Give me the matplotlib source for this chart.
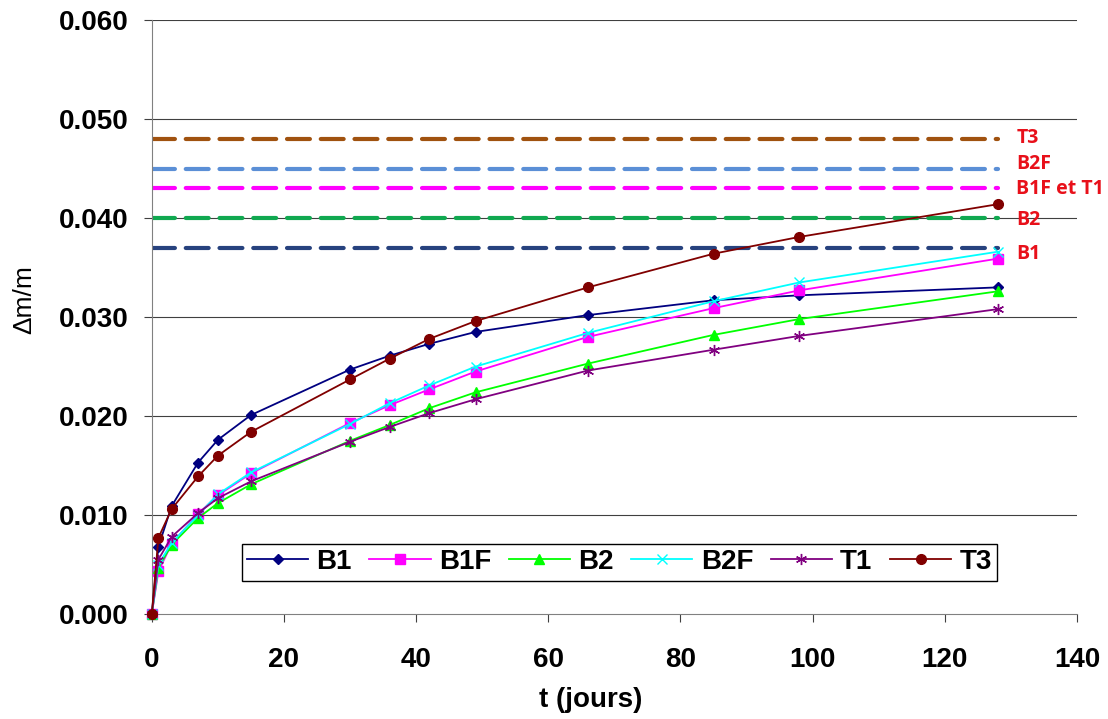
import matplotlib
matplotlib.use("Agg")
import matplotlib.pyplot as plt

# temps (jours) et Δm/m pour chaque série
jours = [0, 1, 3, 7, 10, 15, 30, 36, 42, 49, 66, 85, 98, 128]
b1 = [0, 0.0068, 0.0109, 0.0153, 0.0176, 0.0201, 0.0247, 0.0261, 0.0273, 0.0285, 0.0302, 0.0317, 0.0322, 0.0330]
b1f = [0, 0.0043, 0.0071, 0.0101, 0.0120, 0.0142, 0.0193, 0.0211, 0.0227, 0.0245, 0.0280, 0.0309, 0.0327, 0.0359]
b2 = [0, 0.0047, 0.0070, 0.0097, 0.0112, 0.0131, 0.0175, 0.0191, 0.0208, 0.0224, 0.0253, 0.0282, 0.0298, 0.0326]
b2f = [0, 0.0050, 0.0072, 0.0100, 0.0121, 0.0143, 0.0192, 0.0213, 0.0231, 0.0250, 0.0284, 0.0316, 0.0335, 0.0366]
t1 = [0, 0.0055, 0.0078, 0.0102, 0.0117, 0.0134, 0.0174, 0.0189, 0.0203, 0.0217, 0.0246, 0.0267, 0.0281, 0.0308]
t3 = [0, 0.0077, 0.0106, 0.0139, 0.0160, 0.0184, 0.0237, 0.0258, 0.0278, 0.0296, 0.0330, 0.0364, 0.0381, 0.0414]

# niveaux limites (lignes pointillées)
limites = [0.048, 0.045, 0.043, 0.040, 0.037]
limite_labels = ["T3", "B2F", "B1F et T1", "B2", "B1"]
limite_x = [0, 128]

plt.rcParams['font.family'] = ['Liberation Sans', 'DejaVu Sans']

fig = plt.figure(figsize=(11.08, 7.19), dpi=100)
ax = fig.add_axes([0.137, 0.146, 0.835, 0.826])

# grille horizontale
for yv in [0.01, 0.02, 0.03, 0.04, 0.05, 0.06]:
    ax.axhline(yv, color='#404040', lw=0.8, zorder=1)

dash_colors = ['#A0520F', '#5B8FD6', '#FF00FF', '#10A850', '#27427E']
for lv, col in zip(limites, dash_colors):
    ax.plot(limite_x, [lv, lv], color=col, lw=3, linestyle=(0, (5.5, 2.6)),
            dash_capstyle='round', zorder=2)

label_y = [0.0481, 0.0455, 0.0429, 0.0398, 0.0364]
for txt, yv in zip(limite_labels, label_y):
    ax.text(130.8, yv, txt, color='#E8101A', fontsize=14, fontweight='bold',
            family=['Open Sans', 'DejaVu Sans'], ha='left', va='center')

series = [
    ("B1", b1, '#000080', 'D', 5, '#000080'),
    ("B1F", b1f, '#FF00FF', 's', 7, '#FF00FF'),
    ("B2", b2, '#00FF00', '^', 7, '#00FF00'),
    ("B2F", b2f, '#00FFFF', 'x', 7, '#00FFFF'),
    ("T1", t1, '#800080', (6, 2, 0), 8, '#800080'),
    ("T3", t3, '#800000', 'o', 7, '#800000'),
]
for name, vals, col, mk, ms, mc in series:
    ax.plot(jours, vals, color=col, lw=1.3, marker=mk, markersize=ms,
            markerfacecolor=mc, markeredgecolor=mc, label=name, zorder=3,
            clip_on=False)

ax.set_xlim(0, 140)
ax.set_ylim(0, 0.060)
ax.set_xticks(range(0, 141, 20))
ax.set_yticks([0, 0.01, 0.02, 0.03, 0.04, 0.05, 0.06])
ax.set_yticklabels(["0.000", "0.010", "0.020", "0.030", "0.040", "0.050", "0.060"])
ax.tick_params(axis='both', labelsize=20, direction='out', length=6, width=0.8,
               color='#404040')
ax.tick_params(axis='y', pad=11)
ax.tick_params(axis='x', pad=18)
for lab in ax.get_xticklabels() + ax.get_yticklabels():
    lab.set_fontweight('bold')

for s in ['top', 'right']:
    ax.spines[s].set_visible(False)
ax.spines['left'].set_color('#808080')
ax.spines['bottom'].set_color('#808080')

leg = ax.legend(loc='lower left', bbox_to_anchor=(0.097, 0.056, 0.817, 0.055),
                mode='expand', ncol=6, frameon=True, fancybox=False,
                borderaxespad=0, borderpad=0.2, handlelength=2.2,
                handletextpad=0.3, framealpha=1,
                prop={'size': 20, 'weight': 'bold'})
leg.get_frame().set_edgecolor('black')
leg.get_frame().set_linewidth(1)

fig.text(0.022, 0.583, "Δm/m", rotation=90, fontsize=19, ha='center', va='center')
fig.text(0.533, 0.027, "t (jours)", fontsize=20, fontweight='bold', ha='center', va='center')

fig.savefig("out.png", dpi=100)
